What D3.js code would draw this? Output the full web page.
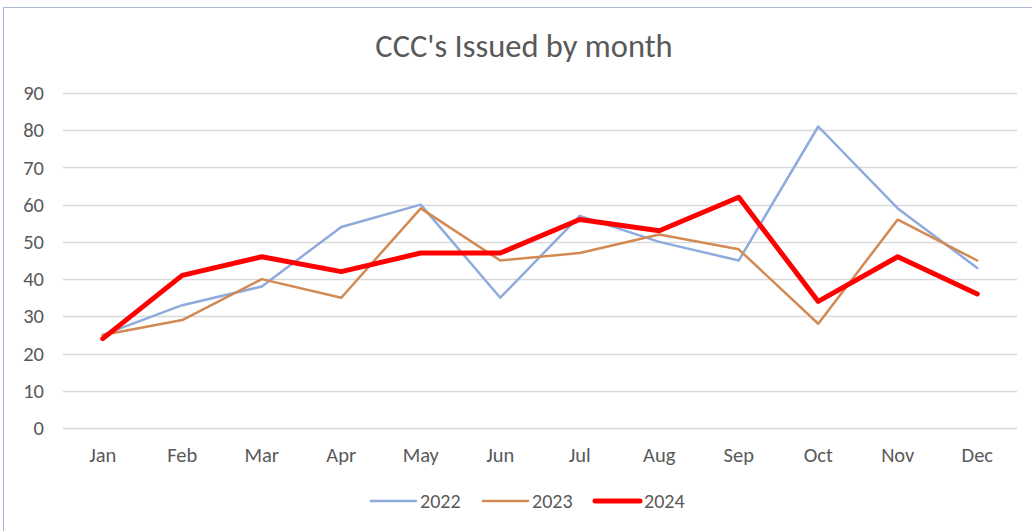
<!DOCTYPE html>
<html>
<head>
<meta charset="utf-8">
<script src="https://cdn.jsdelivr.net/npm/d3@7"></script>
<style>
  body { margin: 0; background: #fff; }
  text { font-family: Carlito, Lato, "Open Sans", sans-serif; fill: #595959; }
</style>
</head>
<body>
<script>
const WIDTH = 1032;
const HEIGHT = 531;
const MARGIN = { top: 93, right: 15, bottom: 103, left: 63 };

const months = ["Jan", "Feb", "Mar", "Apr", "May", "Jun", "Jul", "Aug", "Sep", "Oct", "Nov", "Dec"];
const years = ["2022", "2023", "2024"];
const values2022 = [25, 33, 38, 54, 60, 35, 57, 50, 45, 81, 59, 43];
const values2023 = [25, 29, 40, 35, 59, 45, 47, 52, 48, 28, 56, 45];
const values2024 = [24, 41, 46, 42, 47, 47, 56, 53, 62, 34, 46, 36];
const yTicks = [0, 10, 20, 30, 40, 50, 60, 70, 80, 90];

const series = [
    { name: years[0], values: values2022, color: "#8faadc", width: 2.5 },
    { name: years[1], values: values2023, color: "#d38a52", width: 2.5 },
    { name: years[2], values: values2024, color: "#ff0000", width: 5 },
];

const svg = d3.select("body")
    .append("svg")
    .attr("width", WIDTH)
    .attr("height", HEIGHT);

// chart frame
svg.append("rect")
    .attr("x", 3.5)
    .attr("y", 7.5)
    .attr("width", WIDTH + 10)
    .attr("height", HEIGHT + 10)
    .attr("fill", "none")
    .attr("stroke", "#a9b6d6")
    .attr("stroke-width", 1);

svg.append("text")
    .attr("x", 524)
    .attr("y", 57)
    .attr("text-anchor", "middle")
    .attr("font-size", 32.5)
    .text("CCC's Issued by month");

const x = d3.scaleBand()
    .domain(months)
    .range([MARGIN.left, WIDTH - MARGIN.right]);

const y = d3.scaleLinear()
    .domain([0, 90])
    .range([HEIGHT - MARGIN.bottom, MARGIN.top]);

// gridlines
svg.append("g")
    .selectAll("line")
    .data(yTicks)
    .join("line")
    .attr("x1", MARGIN.left)
    .attr("x2", WIDTH - MARGIN.right)
    .attr("y1", d => Math.round(y(d)) + 0.5)
    .attr("y2", d => Math.round(y(d)) + 0.5)
    .attr("stroke", "#d9d9d9")
    .attr("stroke-width", 1.5);

const yAxis = svg.append("g")
    .attr("transform", `translate(${MARGIN.left - 19},0)`)
    .call(d3.axisLeft(y).tickValues(yTicks).tickSize(0).tickPadding(0));
yAxis.select(".domain").remove();
yAxis.selectAll("text").attr("font-size", 20.5).attr("fill", "#595959");

const xAxis = svg.append("g")
    .attr("transform", `translate(0,${HEIGHT - MARGIN.bottom})`)
    .call(d3.axisBottom(x).tickSize(0).tickPadding(0));
xAxis.select(".domain").remove();
xAxis.selectAll("text")
    .attr("font-size", 20.5)
    .attr("fill", "#595959")
    .attr("y", 34)
    .attr("dy", null);

const line = d3.line()
    .x((d, i) => x(months[i]) + x.bandwidth() / 2)
    .y(d => y(d));

svg.append("g")
    .selectAll("path")
    .data(series)
    .join("path")
    .attr("d", d => line(d.values))
    .attr("fill", "none")
    .attr("stroke", d => d.color)
    .attr("stroke-width", d => d.width)
    .attr("stroke-linejoin", "round")
    .attr("stroke-linecap", "round");

// legend
const legend = svg.append("g")
    .selectAll("g")
    .data(series)
    .join("g")
    .attr("transform", (d, i) => `translate(${371 + i * 112},501)`);

legend.append("line")
    .attr("x1", 0)
    .attr("x2", 45)
    .attr("stroke", d => d.color)
    .attr("stroke-width", d => d.width)
    .attr("stroke-linecap", "round");

legend.append("text")
    .attr("x", 49)
    .attr("y", 7)
    .attr("font-size", 20)
    .text(d => d.name);
</script>
</body>
</html>
